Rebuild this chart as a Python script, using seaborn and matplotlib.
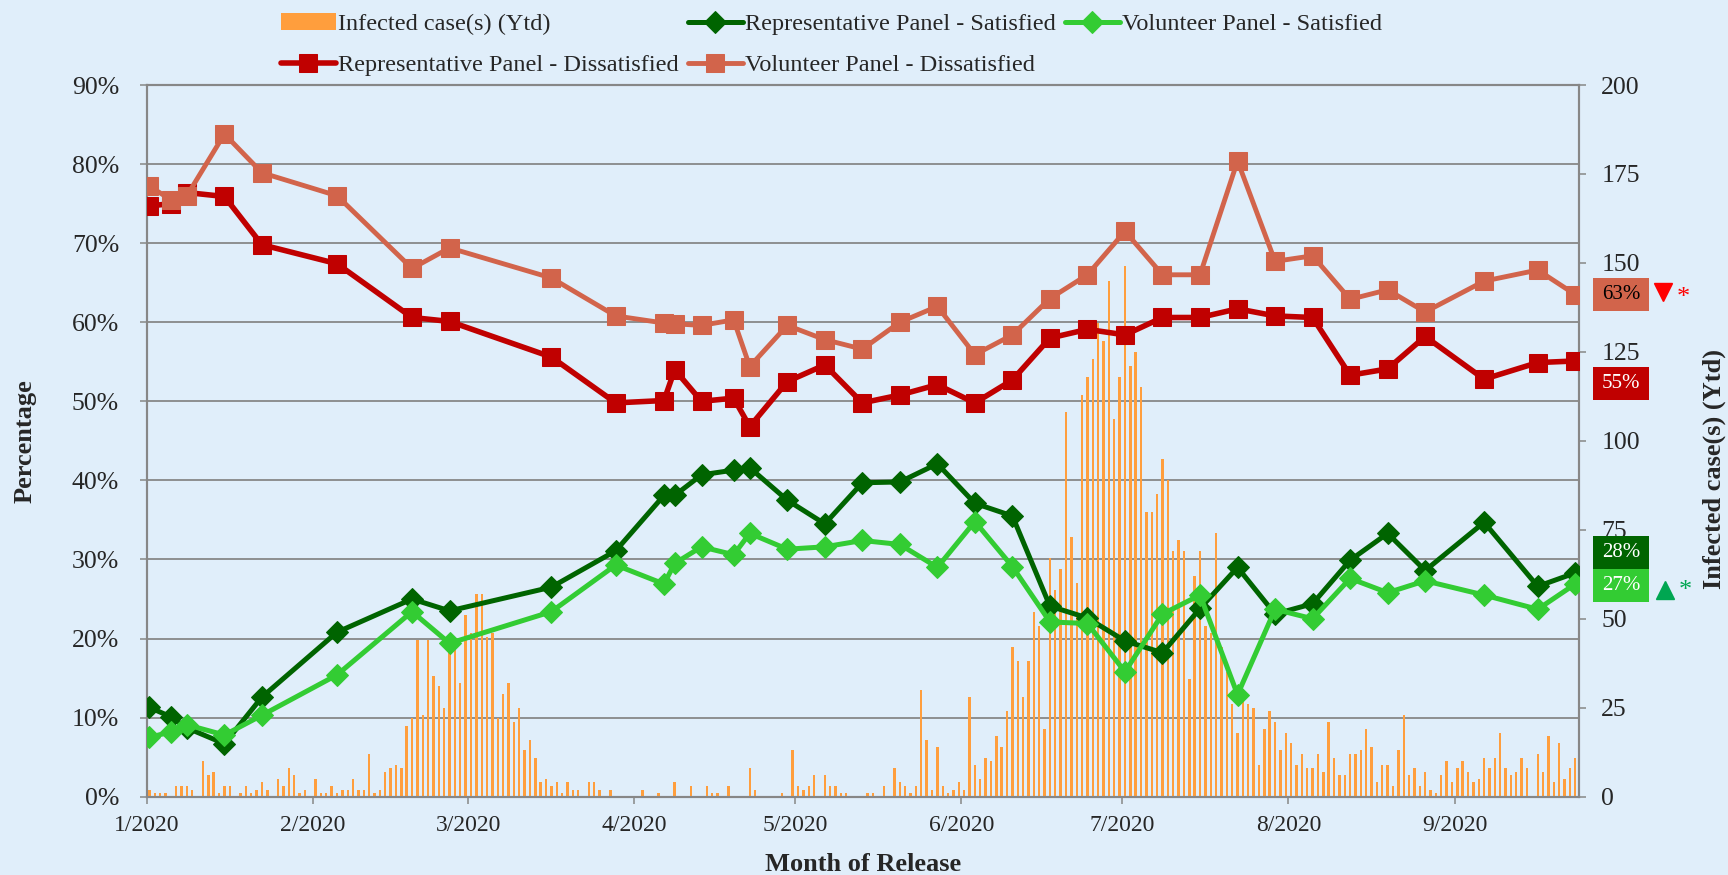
import pandas as pd
import seaborn as sns
import matplotlib.pyplot as plt
import matplotlib.dates as mdates
import matplotlib.transforms as mtransforms
from matplotlib.patches import Rectangle
from matplotlib.ticker import FuncFormatter

# Casos infectados por dia (Ytd), um valor por dia a partir de 1/1/2020
cases = [
    2, 1, 1, 1, 0, 3, 3, 3, 2, 0,
    10, 6, 7, 1, 3, 3, 0, 1, 3, 1,
    2, 4, 2, 0, 5, 3, 8, 6, 1, 2,
    0, 5, 1, 1, 3, 1, 2, 2, 5, 2,
    2, 12, 1, 2, 7, 8, 9, 8, 20, 22,
    44, 23, 44, 34, 31, 25, 42, 44, 32, 51,
    46, 57, 57, 45, 46, 22, 29, 32, 21, 25,
    13, 16, 11, 4, 5, 3, 4, 1, 4, 2,
    2, 0, 4, 4, 2, 0, 2, 0, 0, 0,
    0, 0, 2, 0, 0, 1, 0, 0, 4, 0,
    0, 3, 0, 0, 3, 1, 1, 0, 3, 0,
    0, 0, 8, 2, 0, 0, 0, 0, 1, 0,
    13, 3, 2, 3, 6, 0, 6, 3, 3, 1,
    1, 0, 0, 0, 1, 1, 0, 3, 0, 8,
    4, 3, 1, 3, 30, 16, 2, 14, 3, 1,
    2, 4, 2, 28, 9, 5, 11, 10, 17, 14,
    24, 42, 38, 28, 38, 52, 48, 19, 67, 58,
    64, 108, 73, 60, 113, 118, 123, 133, 128, 145,
    106, 118, 149, 121, 125, 115, 80, 80, 85, 95,
    89, 69, 72, 69, 33, 62, 69, 48, 46, 74,
    42, 35, 26, 18, 28, 26, 25, 9, 19, 24,
    21, 13, 18, 15, 9, 12, 8, 8, 12, 7,
    21, 11, 6, 6, 12, 12, 13, 19, 14, 4,
    9, 9, 3, 13, 23, 6, 8, 3, 7, 2,
    1, 6, 10, 4, 8, 10, 7, 4, 5, 11,
    8, 11, 18, 8, 6, 7, 11, 8, 0, 12,
    7, 17, 4, 15, 5, 8, 11,
]

# Datas de divulgação das pesquisas
survey_dates = [
    '2020-01-01', '2020-01-05', '2020-01-08', '2020-01-15', '2020-01-22',
    '2020-02-05', '2020-02-19', '2020-02-26', '2020-03-16', '2020-03-28',
    '2020-04-06', '2020-04-08', '2020-04-13', '2020-04-19', '2020-04-22',
    '2020-04-29', '2020-05-06', '2020-05-13', '2020-05-20', '2020-05-27',
    '2020-06-03', '2020-06-10', '2020-06-17', '2020-06-24', '2020-07-01',
    '2020-07-08', '2020-07-15', '2020-07-22', '2020-07-29', '2020-08-05',
    '2020-08-12', '2020-08-19', '2020-08-26', '2020-09-06', '2020-09-16',
    '2020-09-23',
]

rep_sat = [11.3, 10.1, 8.7, 6.7, 12.6, 20.8, 25.0, 23.5, 26.5, 31.1,
           38.1, 38.1, 40.7, 41.3, 41.6, 37.5, 34.5, 39.7, 39.8, 42.1,
           37.1, 35.5, 24.1, 22.6, 19.7, 18.2, 23.8, 29.0, 23.1, 24.4,
           29.9, 33.3, 28.6, 34.7, 26.6, 28.3]
vol_sat = [7.5, 8.2, 9.1, 7.8, 10.3, 15.4, 23.4, 19.4, 23.4, 29.3,
           26.9, 29.5, 31.6, 30.6, 33.3, 31.3, 31.6, 32.4, 31.9, 29.0,
           34.8, 29.1, 22.1, 21.9, 15.8, 23.1, 25.5, 12.9, 23.7, 22.5,
           27.6, 25.8, 27.3, 25.5, 23.7, 26.9]
rep_dis = [74.7, 75.0, 76.4, 75.9, 69.8, 67.4, 60.6, 60.1, 55.6, 49.8,
           50.1, 54.0, 50.0, 50.4, 46.8, 52.5, 54.6, 49.8, 50.8, 52.1,
           49.8, 52.7, 58.0, 59.1, 58.4, 60.6, 60.6, 61.7, 60.8, 60.6,
           53.3, 54.1, 58.2, 52.8, 54.9, 55.1]
vol_dis = [77.2, 75.5, 76.0, 83.8, 78.9, 76.0, 66.8, 69.4, 65.6, 60.8,
           59.9, 59.8, 59.6, 60.3, 54.4, 59.6, 57.8, 56.6, 60.0, 62.0,
           55.9, 58.4, 63.0, 66.0, 71.5, 66.0, 66.0, 80.4, 67.7, 68.4,
           62.9, 64.1, 61.3, 65.2, 66.6, 63.5]

# Rótulos finais (texto, posição y do rótulo)
end_tags = ['63%', '55%', '28%', '27%']
end_tag_y = [63.5, 52.27, 30.86, 26.71]

# Cores
bg = '#E0EEFA'
grey = '#878787'
orange = '#FF9E3D'
dark_green = '#006400'
lime = '#33CC33'
red = '#C00000'
coral = '#D2644B'

sns.set_style('white', {'axes.facecolor': bg, 'figure.facecolor': bg})
plt.rcParams['font.family'] = ['Liberation Serif', 'DejaVu Serif']

days = pd.date_range('2020-01-01', periods=len(cases), freq='D') + pd.Timedelta(hours=12)
survey = pd.to_datetime(survey_dates) + pd.Timedelta(hours=12)

fig = plt.figure(figsize=(17.28, 8.75), dpi=100)
ax = fig.add_axes([146.7 / 1728, 1 - 796.7 / 875, 1432.3 / 1728, 711.7 / 875])
ax2 = ax.twinx()   # barras (eixo direito)
ax3 = ax.twinx()   # linhas por cima das barras

# Barras dos casos
bars = ax2.bar(days, cases, width=0.45, color=orange, edgecolor='none',
               linewidth=0, zorder=2)

# Linhas das pesquisas
series = [
    (rep_sat, dark_green, 'D', 11, 3.6),
    (vol_sat, lime, 'D', 11, 3.6),
    (rep_dis, red, 's', 13, 4.0),
    (vol_dis, coral, 's', 13, 3.5),
]
for vals, col, mk, ms, lw in series:
    sns.lineplot(x=survey, y=vals, ax=ax3, color=col, marker=mk, markersize=ms,
                 linewidth=lw, markeredgecolor=col, legend=False)
lines = list(ax3.get_lines())

# Eixos
ax.set_ylim(0, 90)
ax3.set_ylim(0, 90)
ax2.set_ylim(0, 200)
ax.set_yticks(range(0, 91, 10))
ax2.set_yticks(range(0, 201, 25))
ax.yaxis.set_major_formatter(FuncFormatter(lambda v, p: f'{v:.0f}%'))
ax.grid(axis='y', color=grey, linewidth=1.3)
ax.grid(axis='x', visible=False)
ax3.axis('off')

for a in (ax, ax2):
    for s in a.spines.values():
        s.set_color(grey)
        s.set_linewidth(1.5)

ax.tick_params(axis='y', direction='out', length=5.3, width=1.1, color=grey,
               labelsize=18.5, pad=14.6, left=True, right=False)
ax.tick_params(axis='x', direction='out', length=5.3, width=1.1, color=grey,
               labelsize=17, pad=8.2, bottom=True)
ax2.tick_params(axis='y', direction='out', length=5.3, width=1.1, color=grey,
                labelsize=18.5, pad=10.8, right=True)

ax.set_xlabel('Month of Release', fontsize=19, fontweight='bold')
ax.xaxis.set_label_coords(0.5, -0.079)
ax.set_ylabel('Percentage', fontsize=19, fontweight='bold')
ax.yaxis.set_label_coords(-0.0771, 0.5)
ax2.set_ylabel('Infected case(s) (Ytd)', fontsize=19, fontweight='bold')
ax2.yaxis.set_label_coords(1.0866, 0.461)

# Rótulos do último valor, à direita do gráfico
trans = mtransforms.blended_transform_factory(ax3.transAxes, ax3.transData)
tag_fill = [coral, red, dark_green, lime]
tag_text = ['black', 'white', 'white', 'white']
for txt, yc, fc, tc in zip(end_tags, end_tag_y, tag_fill, tag_text):
    ax3.add_patch(Rectangle((1.0096, yc - 2.05), 0.0393, 4.1, transform=trans,
                            facecolor=fc, edgecolor='none', clip_on=False))
    ax3.text(1.0293, yc, txt, transform=trans, ha='center', va='center',
             fontsize=15, color=tc)

ax3.plot([1.0583], [63.82], marker='v', ms=13, color='#FF0000', ls='none',
         transform=trans, clip_on=False)
ax3.text(1.0728, 63.1, '*', color='#FF0000', fontsize=19, ha='center',
         va='center', transform=trans)
ax3.plot([1.0601], [26.14], marker='^', ms=13, color='#00A651', ls='none',
         transform=trans, clip_on=False)
ax3.text(1.0740, 26.0, '*', color='#00A651', fontsize=19, ha='center',
         va='center', transform=trans)

# Eixo x com datas
start = pd.Timestamp('2020-01-01')
ax.set_xlim(start, start + pd.Timedelta(days=267.2))
ax.xaxis.set_major_locator(mdates.MonthLocator())
ax.xaxis.set_major_formatter(FuncFormatter(
    lambda v, p: f'{mdates.num2date(v).month}/{mdates.num2date(v).year}'))

# Legenda
handles = [bars, lines[2], lines[0], lines[3], lines[1]]
labels = ['Infected case(s) (Ytd)', 'Representative Panel - Dissatisfied',
          'Representative Panel - Satisfied', 'Volunteer Panel - Dissatisfied',
          'Volunteer Panel - Satisfied']
fig.legend(handles, labels, ncol=3, loc='upper left',
           bbox_to_anchor=(281 / 1728, 0.985), frameon=False, fontsize=17.5,
           handlelength=2.26, handletextpad=0.1, columnspacing=0.36,
           labelspacing=0.78, borderpad=0, borderaxespad=0)

fig.savefig('out.png', dpi=100, facecolor=bg)
